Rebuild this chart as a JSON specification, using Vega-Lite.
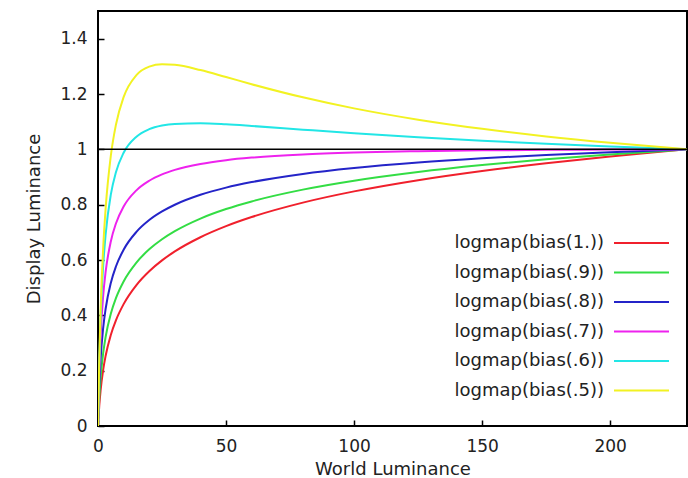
{
  "$schema": "https://vega.github.io/schema/vega-lite/v6.json",
  "width": 589,
  "height": 415,
  "autosize": {"type": "none"},
  "padding": {"left": 98, "top": 11, "right": 1, "bottom": 52},
  "background": "white",
  "config": {
    "view": {"stroke": "black", "strokeWidth": 2},
    "font": "DejaVu Sans",
    "axis": {
      "labelFont": "DejaVu Sans",
      "labelFontSize": 17,
      "labelColor": "#222",
      "labelFlush": false,
      "titleFont": "DejaVu Sans",
      "titleFontSize": 18,
      "titleFontWeight": "normal",
      "titleColor": "#222",
      "grid": false,
      "domain": false,
      "tickColor": "black",
      "tickWidth": 1.5,
      "tickSize": -6
    }
  },
  "datasets": {
    "curves": [
      {"x":0,"y":0,"s":"logmap(bias(1.))"},{"x":0.5,"y":0.0745,"s":"logmap(bias(1.))"},{"x":1,"y":0.1274,"s":"logmap(bias(1.))"},{"x":2,"y":0.2019,"s":"logmap(bias(1.))"},{"x":3,"y":0.2547,"s":"logmap(bias(1.))"},{"x":5,"y":0.3292,"s":"logmap(bias(1.))"},{"x":7,"y":0.3821,"s":"logmap(bias(1.))"},{"x":10,"y":0.4406,"s":"logmap(bias(1.))"},{"x":15,"y":0.5094,"s":"logmap(bias(1.))"},{"x":20,"y":0.5594,"s":"logmap(bias(1.))"},{"x":25,"y":0.5986,"s":"logmap(bias(1.))"},{"x":30,"y":0.631,"s":"logmap(bias(1.))"},{"x":40,"y":0.6823,"s":"logmap(bias(1.))"},{"x":50,"y":0.7224,"s":"logmap(bias(1.))"},{"x":60,"y":0.7553,"s":"logmap(bias(1.))"},{"x":80,"y":0.8074,"s":"logmap(bias(1.))"},{"x":100,"y":0.848,"s":"logmap(bias(1.))"},{"x":125,"y":0.8886,"s":"logmap(bias(1.))"},{"x":150,"y":0.9219,"s":"logmap(bias(1.))"},{"x":175,"y":0.95,"s":"logmap(bias(1.))"},{"x":200,"y":0.9744,"s":"logmap(bias(1.))"},{"x":230,"y":1,"s":"logmap(bias(1.))"},
      {"x":0,"y":0,"s":"logmap(bias(.9))"},{"x":0.5,"y":0.1047,"s":"logmap(bias(.9))"},{"x":1,"y":0.172,"s":"logmap(bias(.9))"},{"x":2,"y":0.2621,"s":"logmap(bias(.9))"},{"x":3,"y":0.3233,"s":"logmap(bias(.9))"},{"x":5,"y":0.406,"s":"logmap(bias(.9))"},{"x":7,"y":0.4623,"s":"logmap(bias(.9))"},{"x":10,"y":0.5226,"s":"logmap(bias(.9))"},{"x":15,"y":0.5908,"s":"logmap(bias(.9))"},{"x":20,"y":0.6385,"s":"logmap(bias(.9))"},{"x":25,"y":0.6749,"s":"logmap(bias(.9))"},{"x":30,"y":0.7042,"s":"logmap(bias(.9))"},{"x":40,"y":0.7497,"s":"logmap(bias(.9))"},{"x":50,"y":0.7841,"s":"logmap(bias(.9))"},{"x":60,"y":0.8117,"s":"logmap(bias(.9))"},{"x":80,"y":0.8543,"s":"logmap(bias(.9))"},{"x":100,"y":0.8865,"s":"logmap(bias(.9))"},{"x":125,"y":0.9179,"s":"logmap(bias(.9))"},{"x":150,"y":0.943,"s":"logmap(bias(.9))"},{"x":175,"y":0.9639,"s":"logmap(bias(.9))"},{"x":200,"y":0.9817,"s":"logmap(bias(.9))"},{"x":230,"y":1,"s":"logmap(bias(.9))"},
      {"x":0,"y":0,"s":"logmap(bias(.8))"},{"x":0.5,"y":0.1511,"s":"logmap(bias(.8))"},{"x":1,"y":0.2403,"s":"logmap(bias(.8))"},{"x":2,"y":0.3526,"s":"logmap(bias(.8))"},{"x":3,"y":0.4247,"s":"logmap(bias(.8))"},{"x":5,"y":0.5171,"s":"logmap(bias(.8))"},{"x":7,"y":0.5766,"s":"logmap(bias(.8))"},{"x":10,"y":0.6371,"s":"logmap(bias(.8))"},{"x":15,"y":0.7016,"s":"logmap(bias(.8))"},{"x":20,"y":0.7443,"s":"logmap(bias(.8))"},{"x":25,"y":0.7754,"s":"logmap(bias(.8))"},{"x":30,"y":0.7997,"s":"logmap(bias(.8))"},{"x":40,"y":0.8356,"s":"logmap(bias(.8))"},{"x":50,"y":0.8616,"s":"logmap(bias(.8))"},{"x":60,"y":0.8816,"s":"logmap(bias(.8))"},{"x":80,"y":0.9112,"s":"logmap(bias(.8))"},{"x":100,"y":0.9324,"s":"logmap(bias(.8))"},{"x":125,"y":0.9523,"s":"logmap(bias(.8))"},{"x":150,"y":0.9675,"s":"logmap(bias(.8))"},{"x":175,"y":0.9797,"s":"logmap(bias(.8))"},{"x":200,"y":0.9899,"s":"logmap(bias(.8))"},{"x":230,"y":1,"s":"logmap(bias(.8))"},
      {"x":0,"y":0,"s":"logmap(bias(.7))"},{"x":0.5,"y":0.2017,"s":"logmap(bias(.7))"},{"x":1,"y":0.3218,"s":"logmap(bias(.7))"},{"x":2,"y":0.4686,"s":"logmap(bias(.7))"},{"x":3,"y":0.5586,"s":"logmap(bias(.7))"},{"x":5,"y":0.6671,"s":"logmap(bias(.7))"},{"x":7,"y":0.732,"s":"logmap(bias(.7))"},{"x":10,"y":0.7931,"s":"logmap(bias(.7))"},{"x":15,"y":0.8518,"s":"logmap(bias(.7))"},{"x":20,"y":0.8864,"s":"logmap(bias(.7))"},{"x":25,"y":0.9093,"s":"logmap(bias(.7))"},{"x":30,"y":0.9256,"s":"logmap(bias(.7))"},{"x":40,"y":0.9472,"s":"logmap(bias(.7))"},{"x":50,"y":0.9608,"s":"logmap(bias(.7))"},{"x":60,"y":0.9701,"s":"logmap(bias(.7))"},{"x":80,"y":0.9816,"s":"logmap(bias(.7))"},{"x":100,"y":0.9883,"s":"logmap(bias(.7))"},{"x":125,"y":0.9933,"s":"logmap(bias(.7))"},{"x":150,"y":0.9963,"s":"logmap(bias(.7))"},{"x":175,"y":0.9981,"s":"logmap(bias(.7))"},{"x":200,"y":0.9992,"s":"logmap(bias(.7))"},{"x":230,"y":1,"s":"logmap(bias(.7))"},
      {"x":0,"y":0,"s":"logmap(bias(.6))"},{"x":0.5,"y":0.2331,"s":"logmap(bias(.6))"},{"x":1,"y":0.3842,"s":"logmap(bias(.6))"},{"x":2,"y":0.5756,"s":"logmap(bias(.6))"},{"x":3,"y":0.6945,"s":"logmap(bias(.6))"},{"x":5,"y":0.8361,"s":"logmap(bias(.6))"},{"x":7,"y":0.917,"s":"logmap(bias(.6))"},{"x":10,"y":0.9876,"s":"logmap(bias(.6))"},{"x":15,"y":1.0458,"s":"logmap(bias(.6))"},{"x":20,"y":1.0728,"s":"logmap(bias(.6))"},{"x":25,"y":1.0859,"s":"logmap(bias(.6))"},{"x":30,"y":1.0919,"s":"logmap(bias(.6))"},{"x":40,"y":1.0941,"s":"logmap(bias(.6))"},{"x":50,"y":1.0904,"s":"logmap(bias(.6))"},{"x":60,"y":1.0845,"s":"logmap(bias(.6))"},{"x":80,"y":1.0711,"s":"logmap(bias(.6))"},{"x":100,"y":1.0581,"s":"logmap(bias(.6))"},{"x":125,"y":1.0436,"s":"logmap(bias(.6))"},{"x":150,"y":1.0309,"s":"logmap(bias(.6))"},{"x":175,"y":1.0199,"s":"logmap(bias(.6))"},{"x":200,"y":1.0102,"s":"logmap(bias(.6))"},{"x":230,"y":1,"s":"logmap(bias(.6))"},
      {"x":0,"y":0,"s":"logmap(bias(.5))"},{"x":0.5,"y":0.2444,"s":"logmap(bias(.5))"},{"x":1,"y":0.4128,"s":"logmap(bias(.5))"},{"x":2,"y":0.6391,"s":"logmap(bias(.5))"},{"x":3,"y":0.7883,"s":"logmap(bias(.5))"},{"x":5,"y":0.9762,"s":"logmap(bias(.5))"},{"x":7,"y":1.0888,"s":"logmap(bias(.5))"},{"x":10,"y":1.1887,"s":"logmap(bias(.5))"},{"x":15,"y":1.2682,"s":"logmap(bias(.5))"},{"x":20,"y":1.2989,"s":"logmap(bias(.5))"},{"x":25,"y":1.3076,"s":"logmap(bias(.5))"},{"x":30,"y":1.3054,"s":"logmap(bias(.5))"},{"x":40,"y":1.2865,"s":"logmap(bias(.5))"},{"x":50,"y":1.2613,"s":"logmap(bias(.5))"},{"x":60,"y":1.2354,"s":"logmap(bias(.5))"},{"x":80,"y":1.188,"s":"logmap(bias(.5))"},{"x":100,"y":1.148,"s":"logmap(bias(.5))"},{"x":125,"y":1.1072,"s":"logmap(bias(.5))"},{"x":150,"y":1.074,"s":"logmap(bias(.5))"},{"x":175,"y":1.0465,"s":"logmap(bias(.5))"},{"x":200,"y":1.0234,"s":"logmap(bias(.5))"},{"x":230,"y":1,"s":"logmap(bias(.5))"}
    ],
    "ref": [{"y": 1}]
  },
  "layer": [
    {
      "data": {"name": "curves"},
      "mark": {"type": "line", "interpolate": "monotone", "strokeWidth": 2, "clip": true},
      "encoding": {
        "x": {
          "field": "x", "type": "quantitative",
          "scale": {"domain": [0, 230], "nice": false, "zero": false},
          "axis": {"values": [0, 50, 100, 150, 200], "title": "World Luminance", "labelPadding": 18, "titlePadding": 6}
        },
        "y": {
          "field": "y", "type": "quantitative",
          "scale": {"domain": [0, 1.5], "nice": false},
          "axis": {"values": [0, 0.2, 0.4, 0.6, 0.8, 1, 1.2, 1.4], "format": "~g", "title": "Display Luminance", "labelPadding": 17, "titlePadding": 16}
        },
        "color": {
          "field": "s", "type": "nominal",
          "scale": {
            "domain": ["logmap(bias(1.))", "logmap(bias(.9))", "logmap(bias(.8))", "logmap(bias(.7))", "logmap(bias(.6))", "logmap(bias(.5))"],
            "range": ["#f0202c", "#33dd44", "#2424c8", "#ee22ee", "#22e6e6", "#f2f222"]
          },
          "legend": {
            "orient": "none",
            "legendX": 534.5,
            "legendY": 223,
            "title": null,
            "symbolType": "M-5,0H5",
            "symbolSize": 121,
            "symbolStrokeWidth": 2,
            "labelAlign": "right",
            "labelOffset": -46.5,
            "labelFont": "DejaVu Sans",
            "labelFontSize": 18,
            "labelColor": "#222",
            "labelLimit": 300,
            "rowPadding": 11.5,
            "padding": 0
          }
        }
      }
    },
    {
      "data": {"name": "ref"},
      "mark": {"type": "rule", "color": "black", "strokeWidth": 1.5},
      "encoding": {"y": {"field": "y", "type": "quantitative"}}
    }
  ]
}
